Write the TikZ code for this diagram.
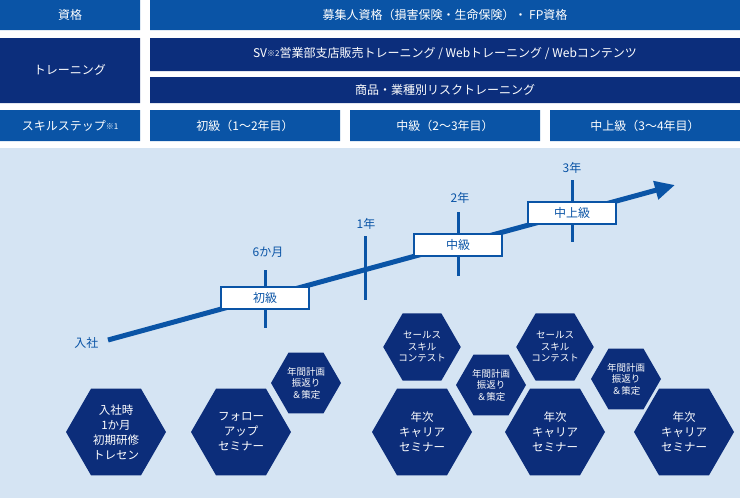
\documentclass[tikz,border=0pt]{standalone}
\usepackage{fontspec}
\setmainfont{Noto Sans CJK JP}
\usetikzlibrary{shapes.geometric,arrows.meta}
\definecolor{hdblue}{RGB}{10,84,166}
\definecolor{hdnavy}{RGB}{12,46,124}
\definecolor{bgblue}{RGB}{213,228,243}
\definecolor{hexnavy}{RGB}{12,45,122}
\tikzset{
  hdbox/.style={fill=#1,text=white,inner sep=0pt,font=\fontsize{12}{14}\selectfont},
  tagbox/.style={draw=hdblue,line width=1.2pt,fill=white,text=hdblue,minimum width=88pt,minimum height=22pt,font=\fontsize{12}{14}\selectfont},
  yrlabel/.style={text=hdblue,font=\fontsize{12}{14}\selectfont},
  tick/.style={hdblue,line width=3pt},
  bighex/.style={regular polygon,regular polygon sides=6,minimum size=100pt,inner sep=0pt,fill=hexnavy,text=white,align=center,font=\fontsize{11.5}{15}\selectfont},
  smallhex/.style={regular polygon,regular polygon sides=6,minimum size=70pt,inner sep=0pt,fill=hexnavy,text=white,align=center,font=\fontsize{9.5}{11.5}\selectfont}
}
\begin{document}
\begin{tikzpicture}[x=1pt,y=-1pt]
\useasboundingbox (0,0) rectangle (740,498);
\fill[bgblue] (0,148) rectangle (740,498);
% header rows
\fill[hdblue] (0,0) rectangle (140,30) (150,0) rectangle (740,30);
\fill[hdnavy] (0,38) rectangle (140,103) (150,38) rectangle (740,71) (150,77) rectangle (740,103);
\fill[hdblue] (0,110) rectangle (140,141) (150,110) rectangle (340,141) (350,110) rectangle (540,141) (550,110) rectangle (740,141);
\node[hdbox=hdblue] (shikaku) at (70,15) {資格};
\node[hdbox=hdblue] (shikakuR) at (445,15) {募集人資格（損害保険・生命保険）・ FP資格};
\node[hdbox=hdnavy] (train) at (70,70) {トレーニング};
\node[hdbox=hdnavy] (trainA) at (445,54) {SV\raisebox{1pt}{\fontsize{8}{8}\selectfont ※2}営業部支店販売トレーニング / Webトレーニング / Webコンテンツ};
\node[hdbox=hdnavy] (trainB) at (445,90) {商品・業種別リスクトレーニング};
\node[hdbox=hdblue] (skill) at (70,126) {スキルステップ\raisebox{1pt}{\fontsize{8}{8}\selectfont ※1}};
\node[hdbox=hdblue] (step1) at (245,126) {初級（1～2年目）};
\node[hdbox=hdblue] (step2) at (445,126) {中級（2～3年目）};
\node[hdbox=hdblue] (step3) at (645,126) {中上級（3～4年目）};
% growth arrow
\coordinate (start) at (108,340);
\coordinate (goal) at (675,185);
\draw[hdblue,line width=5pt,-{Triangle[length=20pt,width=18pt]}] (start) -- (goal);
\node[yrlabel,anchor=east] (nyusha) at (102,343) {入社};
\draw[tick] (265,270) -- (265,328);
\draw[tick] (365,236) -- (365,300);
\draw[tick] (458,212) -- (458,276);
\draw[tick] (572,180) -- (572,242);
\node[yrlabel] (m6) at (268,252) {6か月};
\node[yrlabel] (y1) at (366,224) {1年};
\node[yrlabel] (y2) at (460,198) {2年};
\node[yrlabel] (y3) at (572,168) {3年};
\node[tagbox] (shokyu) at (265,298) {初級};
\node[tagbox] (chukyu) at (458,245) {中級};
\node[tagbox] (chujokyu) at (572,213) {中上級};
% hexagons
\node[bighex] (h1) at (116,432) {入社時\\1か月\\初期研修\\トレセン};
\node[bighex] (h2) at (241,432) {フォロー\\アップ\\セミナー};
\node[bighex] (h3) at (422,432) {年次\\キャリア\\セミナー};
\node[bighex] (h4) at (555,432) {年次\\キャリア\\セミナー};
\node[bighex] (h5) at (684,432) {年次\\キャリア\\セミナー};
\node[smallhex] (s1) at (306,383) {年間計画\\振返り\\＆策定};
\node[smallhex] (s2) at (491,385) {年間計画\\振返り\\＆策定};
\node[smallhex] (s3) at (626,379) {年間計画\\振返り\\＆策定};
\node[smallhex] (c1) at (422,347) {セールス\\スキル\\コンテスト};
\node[smallhex] (c2) at (555,347) {セールス\\スキル\\コンテスト};
\end{tikzpicture}
\end{document}
